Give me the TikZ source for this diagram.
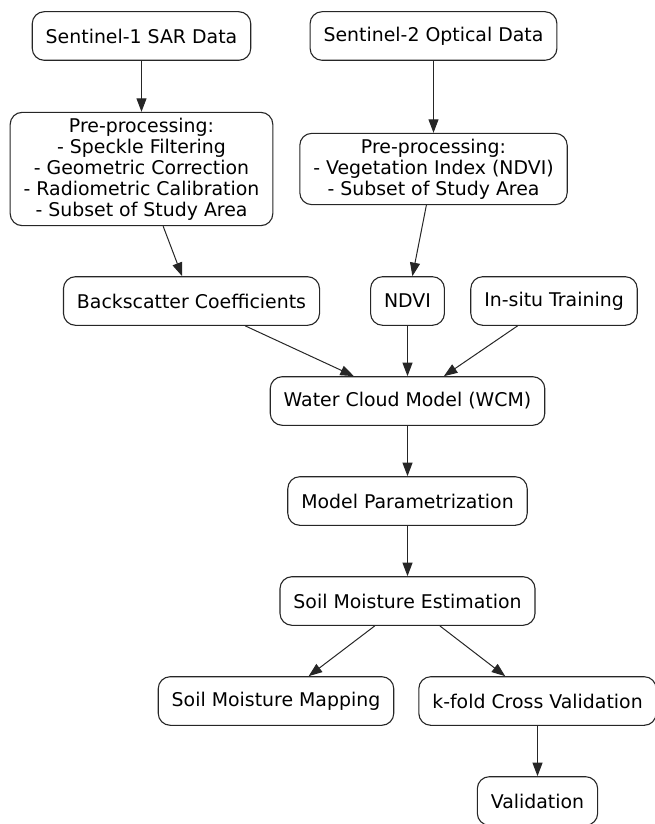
\documentclass[tikz,border=0pt]{standalone}
\usepackage{fontspec}
\setmainfont{DejaVu Sans}
\usetikzlibrary{arrows.meta}
\begin{document}
\begin{tikzpicture}[x=1pt,y=-1pt,
  box/.style={draw=black!85, line width=1.1pt, rounded corners=12pt, align=center,
    inner xsep=13.5pt, inner ysep=5.5pt, minimum height=48.6pt, fill=white,
    font=\fontsize{18.9}{21}\selectfont},
  arr/.style={draw=black!85, line width=1pt, -{Triangle[length=13.5pt,width=10pt]}}]
\useasboundingbox (0,0) rectangle (654,824);
\node[box] (s1) at (141.5,36) {Sentinel-1 SAR Data};
\node[box] (s2) at (433.5,36) {Sentinel-2 Optical Data};
\node[box] (p1) at (141.5,169) {Pre-processing:\\- Speckle Filtering\\- Geometric Correction\\- Radiometric Calibration\\- Subset of Study Area};
\node[box] (p2) at (433.5,169) {Pre-processing:\\- Vegetation Index (NDVI)\\- Subset of Study Area};
\node[box] (bc) at (191.5,301) {Backscatter Coefficients};
\node[box] (nd) at (407.5,301) {NDVI};
\node[box] (is) at (554,301) {In-situ Training};
\node[box] (wcm) at (407.5,401) {Water Cloud Model (WCM)};
\node[box] (mp) at (407.5,501) {Model Parametrization};
\node[box] (sme) at (407.5,601) {Soil Moisture Estimation};
\node[box] (smm) at (276,701) {Soil Moisture Mapping};
\node[box] (kf) at (537.5,701) {k-fold Cross Validation};
\node[box] (val) at (537.5,801) {Validation};
\draw[arr] (s1) -- (p1);
\draw[arr] (s2) -- (p2);
\draw[arr] (p1) -- (bc);
\draw[arr] (p2) -- (nd);
\draw[arr] (bc) -- (wcm);
\draw[arr] (nd) -- (wcm);
\draw[arr] (is) -- (wcm);
\draw[arr] (wcm) -- (mp);
\draw[arr] (mp) -- (sme);
\draw[arr] (sme) -- (smm);
\draw[arr] (sme) -- (kf);
\draw[arr] (kf) -- (val);
\end{tikzpicture}
\end{document}
